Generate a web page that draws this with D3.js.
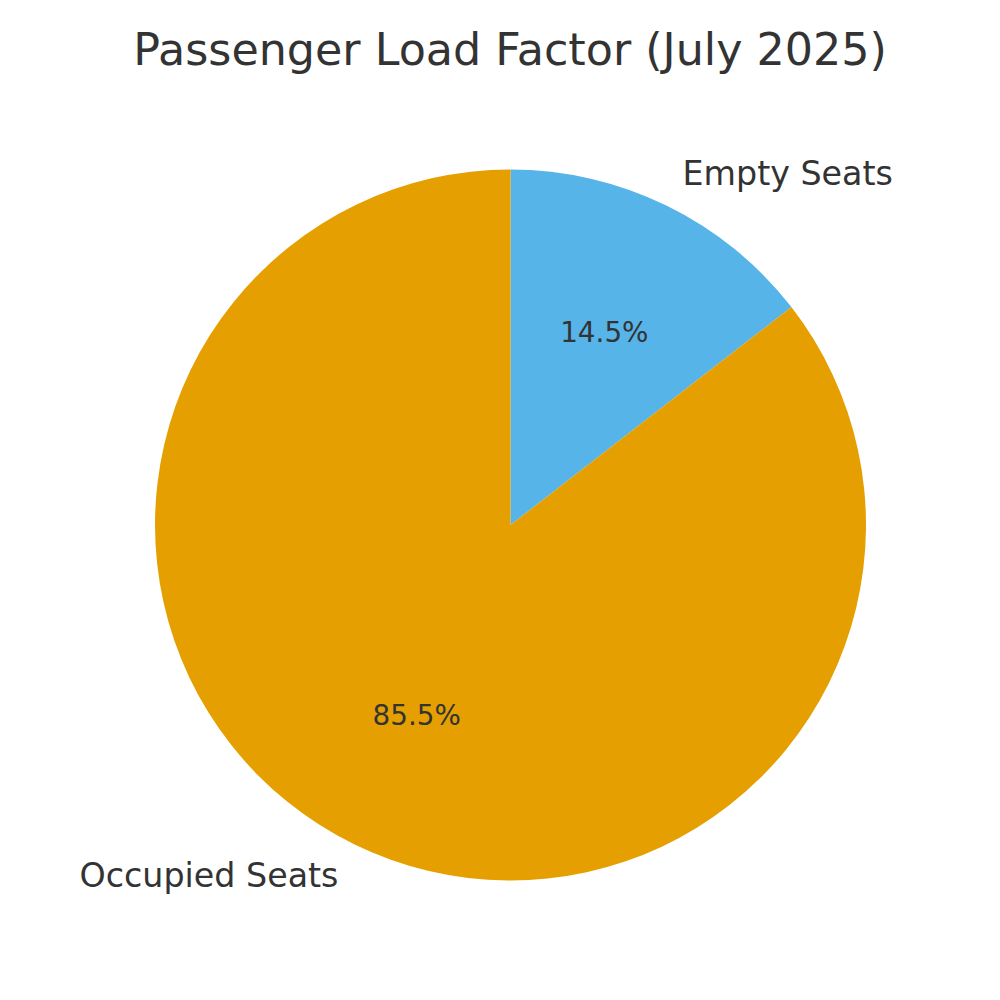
<!DOCTYPE html>
<html>
<head>
<meta charset="utf-8">
<script src="https://cdn.jsdelivr.net/npm/d3@7"></script>
<style>
  body { margin: 0; background: #fff; }
  text { font-family: "DejaVu Sans", sans-serif; fill: #333333; }
</style>
</head>
<body>
<div id="chart"></div>
<script>
// Données
const categories = ["Empty Seats", "Occupied Seats"];
const values = [14.5, 85.5];
const colors = ["#56B4E9", "#E69F00"];
const title = "Passenger Load Factor (July 2025)";

const width = 1000, height = 1000;
const cx = 510.5, cy = 525, radius = 355.5;

const svg = d3.select("#chart")
  .append("svg")
  .attr("width", width)
  .attr("height", height);

// Titre
svg.append("text")
  .attr("x", 510)
  .attr("y", 65)
  .attr("text-anchor", "middle")
  .attr("font-size", "44.4px")
  .text(title);

const data = categories.map((c, i) => ({ name: c, value: values[i], color: colors[i] }));

const pie = d3.pie()
  .sort(null)
  .value(d => d.value);

const arcs = pie(data);

const arc = d3.arc().innerRadius(0).outerRadius(radius);
const labelArc = d3.arc().innerRadius(radius * 1.1).outerRadius(radius * 1.1);
const pctArc = d3.arc().innerRadius(radius * 0.6).outerRadius(radius * 0.6);

const g = svg.append("g")
  .attr("transform", `translate(${cx},${cy})`);

// Parts du camembert
g.selectAll("path.slice")
  .data(arcs)
  .enter()
  .append("path")
  .attr("class", "slice")
  .attr("d", arc)
  .attr("fill", d => d.data.color);

// Libellés des catégories
g.selectAll("text.label")
  .data(arcs)
  .enter()
  .append("text")
  .attr("class", "label")
  .attr("x", d => labelArc.centroid(d)[0])
  .attr("y", d => labelArc.centroid(d)[1])
  .attr("dy", "0.33em")
  .attr("text-anchor", d => labelArc.centroid(d)[0] >= 0 ? "start" : "end")
  .attr("font-size", "33.3px")
  .text(d => d.data.name);

// Pourcentages
g.selectAll("text.pct")
  .data(arcs)
  .enter()
  .append("text")
  .attr("class", "pct")
  .attr("x", d => pctArc.centroid(d)[0])
  .attr("y", d => pctArc.centroid(d)[1])
  .attr("dy", "0.32em")
  .attr("text-anchor", "middle")
  .attr("font-size", "27.8px")
  .text(d => d.data.value.toFixed(1) + "%");
</script>
</body>
</html>
